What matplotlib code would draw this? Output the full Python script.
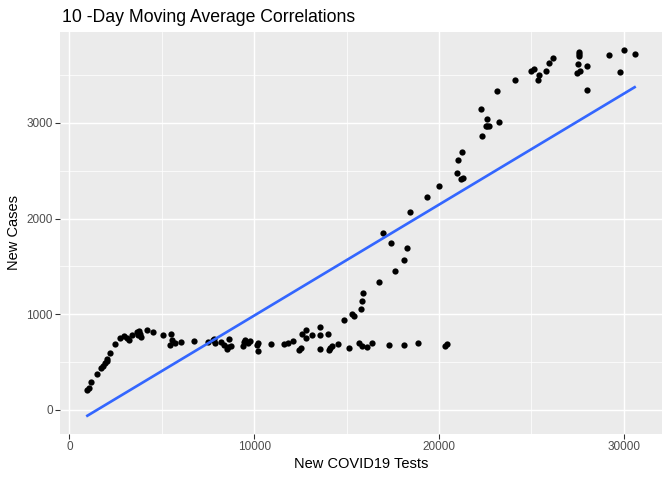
import numpy as np
import matplotlib
matplotlib.use("Agg")
import matplotlib.pyplot as plt
from matplotlib.ticker import MultipleLocator

plt.rcParams['font.family'] = ['Liberation Sans', 'DejaVu Sans']

# moving averages
new_tests = [970, 1045, 1185, 1508, 1723, 1831, 1938, 2010, 2046, 2208,
             2477, 2746, 2929, 3091, 3199, 3393, 3662, 3770, 3845, 3877,
             3737, 4200, 4523, 5062, 5493, 5568, 5439, 5729, 6031, 6731,
             7485, 7755, 7830, 7900, 8185, 8367, 8508, 8584, 8616, 8724,
             9370, 9462, 9516, 9661, 9769, 10124, 10231, 10231, 10932, 11632,
             11815, 12116, 12424, 12532, 12569, 12784, 12816, 13140, 13570, 13570,
             13570, 13968, 14040, 14110, 14183, 14540, 14863, 15132, 15294, 15401,
             15670, 15832, 16101, 16370, 15778, 15832, 15886, 16748, 16963, 17394,
             17609, 18094, 18255, 17286, 18094, 18848, 20302, 20409, 18438, 19332,
             19978, 20948, 21217, 21292, 21002, 21271, 22348, 22294, 22617, 22547,
             22617, 22693, 23263, 23155, 24125, 24987, 25132, 25363, 25417, 25794,
             25956, 26171, 27464, 27625, 27517, 27571, 27571, 27571, 28002, 28002,
             29187, 29779, 29995, 30587]
new_cases = [208, 232, 292, 375, 437, 464, 492, 513, 534, 594,
             688, 750, 771, 756, 729, 784, 819, 826, 798, 764,
             785, 833, 812, 784, 792, 729, 680, 701, 708, 719,
             708, 735, 743, 701, 708, 680, 638, 660, 743, 673,
             673, 708, 735, 701, 722, 680, 701, 618, 688, 688,
             701, 719, 625, 646, 798, 833, 750, 784, 865, 784,
             635, 792, 631, 652, 673, 688, 937, 646, 1003, 979,
             698, 670, 656, 698, 1052, 1135, 1219, 1333, 1854, 1750,
             1448, 1563, 1688, 677, 677, 698, 667, 688, 2073, 2229,
             2344, 2479, 2417, 2427, 2615, 2698, 2865, 3146, 3042, 2969,
             2969, 2969, 3010, 3333, 3448, 3542, 3569, 3448, 3500, 3542,
             3625, 3677, 3521, 3542, 3615, 3740, 3719, 3701, 3594, 3344,
             3708, 3531, 3760, 3719]

trend_tests = [970, 30587]
trend_cases = [-60, 3374]

fig = plt.figure(figsize=(7, 5), dpi=96)
ax = fig.add_axes([60 / 672, 46 / 480, 602 / 672, 402 / 480])
ax.set_facecolor('#EBEBEB')
for s in ax.spines.values():
    s.set_visible(False)

ax.xaxis.set_major_locator(MultipleLocator(10000))
ax.xaxis.set_minor_locator(MultipleLocator(5000))
ax.yaxis.set_major_locator(MultipleLocator(1000))
ax.yaxis.set_minor_locator(MultipleLocator(500))
ax.grid(which='major', color='white', linewidth=1.1)
ax.grid(which='minor', color='white', linewidth=0.55)
ax.set_axisbelow(True)
ax.tick_params(which='major', length=3.5, width=0.8, color='#333333',
               labelcolor='#4D4D4D', labelsize=8.8, pad=2)
ax.tick_params(which='minor', length=0)

ax.scatter(new_tests, new_cases, s=22, color='black', linewidths=0, zorder=3)
ax.plot(trend_tests, trend_cases, color='#3366FF', linewidth=2.0, zorder=4)

# expansion de 5% como ggplot
lo_x, hi_x = min(new_tests), max(new_tests)
lo_y = min(min(new_cases), min(trend_cases))
hi_y = max(max(new_cases), max(trend_cases))
ax.set_xlim(lo_x - 0.05 * (hi_x - lo_x), hi_x + 0.05 * (hi_x - lo_x))
ax.set_ylim(lo_y - 0.05 * (hi_y - lo_y), hi_y + 0.05 * (hi_y - lo_y))

ax.set_xlabel('New COVID19 Tests', fontsize=11, color='black', labelpad=3)
ax.set_ylabel('New Cases', fontsize=11, color='black', labelpad=4)
fig.text(62 / 672, 1 - 17 / 480, '10 -Day Moving Average Correlations',
         fontsize=13.2, ha='left', va='center')

fig.savefig('out.png', dpi=96)
